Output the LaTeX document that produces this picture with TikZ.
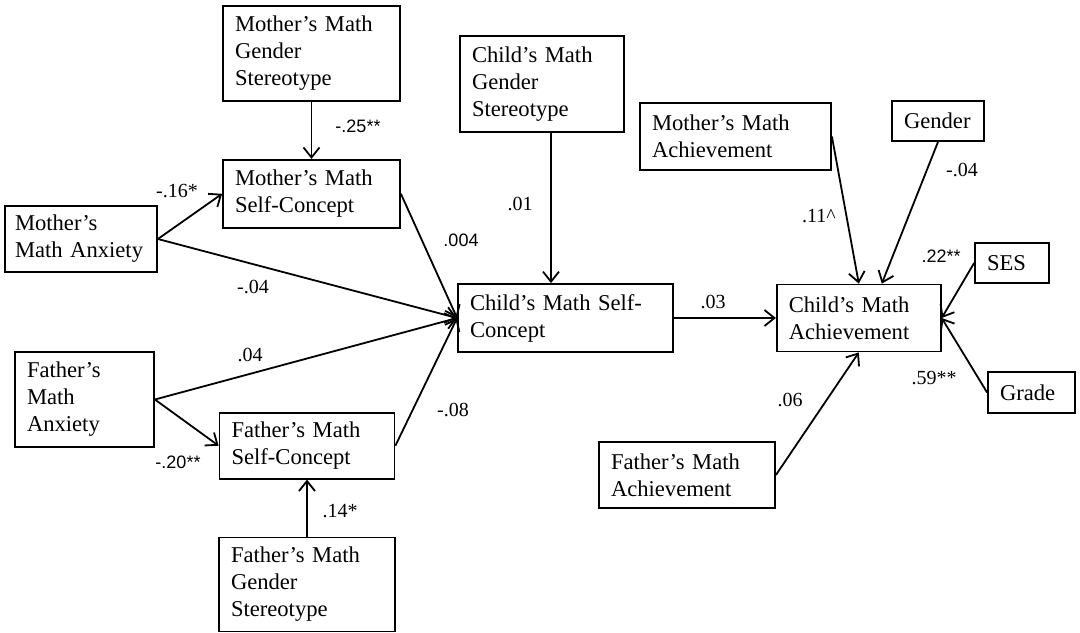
\documentclass[tikz,border=0pt]{standalone}
\usepackage{fontspec}
\setmainfont{Liberation Serif}
\setsansfont{Liberation Sans}
\usepackage{tikz}
\usetikzlibrary{positioning, arrows.meta, calc}
\tikzset{block/.style={draw, line width=0.9pt, align=left, inner xsep=6pt, inner ysep=0pt, font=\fontsize{11.3}{13.5}\selectfont},
line/.style={line width=0.9pt, -{Straight Barb[length=5pt,width=8pt,line width=0.9pt]}},
coef/.style={inner sep=0pt, font=\fontsize{10}{12}\selectfont},
coefsf/.style={inner sep=0pt, font=\sffamily\fontsize{9}{11}\selectfont}
}

\begin{document}
\begin{tikzpicture}[x=0.5pt, y=-0.5pt]
\useasboundingbox (0,0) rectangle (1080,632);
\node[block, text width=76.5pt, minimum height=47.5pt] (mgs) at (311.5,53.5) {Mother’s Math\\Gender\\Stereotype};
\node[block, text width=76.5pt, minimum height=34pt, below=28.5pt of mgs] (msc) {Mother’s Math\\Self-Concept};
\node[block, inner xsep=5pt, text width=66pt, minimum height=33pt] (manx) at (81,239) {Mother’s\\\mbox{Math Anxiety}};
\node[block, text width=57.5pt, minimum height=47.5pt] (fanx) at (84.5,399.5) {Father’s\\Math\\Anxiety};
\node[block, text width=76pt, minimum height=47pt] (fgs) at (307,584.5) {Father’s Math\\Gender\\Stereotype};
\node[block, text width=75.5pt, minimum height=33pt, above=28.5pt of fgs] (fsc) {Father’s Math\\Self-Concept};
% the child's side of the model
\node[block, text width=70pt, minimum height=48pt] (cgs) at (542,84) {Child’s Math\\Gender\\Stereotype};
\node[block, text width=95.5pt, minimum height=34pt] (csc) at (565.5,318) {Child’s Math Self-\\Concept};
\node[block, text width=70pt, minimum height=33.5pt, right=51pt of csc] (cach) {Child’s Math\\Achievement};
\node[block, text width=83.5pt, minimum height=33.5pt] (mach) at (735.5,136.5) {Mother’s Math\\Achievement};
\node[block, text width=76pt, minimum height=33pt] (fach) at (687,475) {Father’s Math\\Achievement};
\node[block, text width=34pt, minimum height=20pt] (gender) at (938,121) {Gender};
\node[block, text width=25pt, minimum height=20pt] (ses) at (1012,263) {SES};
\node[block, text width=31.5pt, minimum height=20.5pt] (grade) at (1031.5,392.5) {Grade};
% paths
\draw[line] (mgs)--(msc);
\draw[line] (manx.east)--(msc.west);
\draw[line] (manx.east)--(csc.west);
\draw[line] (msc.east)--(csc.west);
\draw[line] (fanx.east)--(fsc.west);
\draw[line] (fanx.east)--(csc.west);
\draw[line] (fsc.east)--(csc.west);
\draw[line] (fgs)--(fsc);
\draw[line] ([xshift=4.5pt]cgs.south)--([xshift=4.5pt]cgs.south |- csc.north);
\draw[line] (csc)--(cach);
\draw[line] (mach.east)--(cach.north);
\draw[line] (gender.south)--([xshift=11.5pt]cach.north);
\draw[line] (ses.west)--(cach.east);
\draw[line] (grade.west)--(cach.east);
\draw[line] (fach.east)--(cach.south);
% coefficients
\node[coefsf] (w1) at (358,126) {-.25**};
\node[coef] (w2) at (177,191) {-.16*};
\node[coef] (w3) at (253,287) {-.04};
\node[coefsf] (w4) at (461,240) {.004};
\node[coef] (w5) at (250,355) {.04};
\node[coefsf] (w6) at (178,462) {-.20**};
\node[coef] (w7) at (340,511) {.14*};
\node[coef] (w8) at (453,410) {-.08};
\node[coef] (w9) at (520,204) {.01};
\node[coef] (w10) at (713,302) {.03};
\node[coef] (w11) at (819,216) {.11\^{}};
\node[coef] (w12) at (962,170) {-.04};
\node[coefsf] (w13) at (941,256) {.22**};
\node[coef] (w14) at (934,378) {.59**};
\node[coef] (w15) at (790,400) {.06};
\end{tikzpicture}
\end{document}
